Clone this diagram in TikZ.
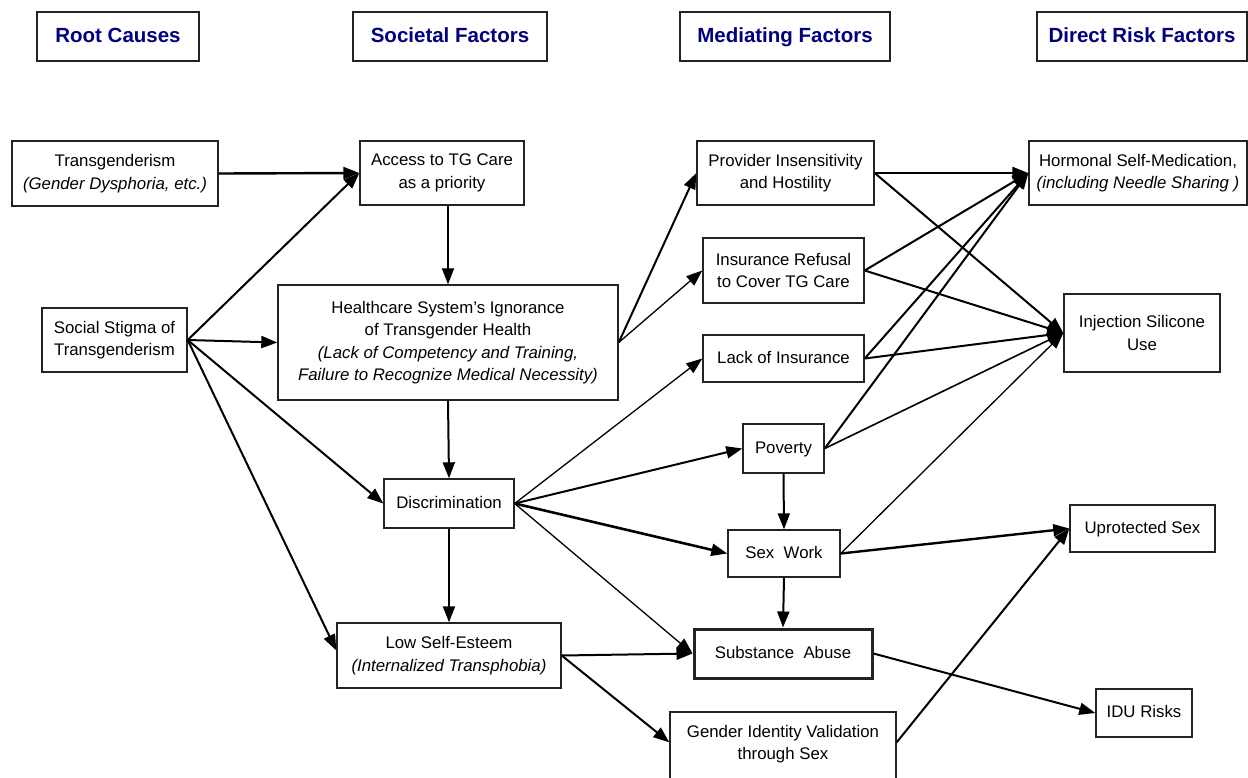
\documentclass[tikz,border=0pt]{standalone}
\usepackage{fontspec}
\setmainfont{Liberation Sans}
\usetikzlibrary{arrows.meta}
\definecolor{hdr}{RGB}{0,0,128}
\definecolor{bord}{RGB}{35,35,35}
\begin{document}
\begin{tikzpicture}[x=1pt,y=-1pt,
  box/.style={draw=bord, fill=white, line width=1.4pt, inner sep=0pt, align=center, font=\fontsize{16.8}{22.5}\selectfont, text=black},
  one/.style={text height=12.5pt, text depth=3.5pt},
  txt/.style={inner sep=0pt, align=center, font=\fontsize{16.8}{22.5}\selectfont, text=black},
  hbox/.style={draw=bord, fill=white, line width=1.4pt, inner sep=0pt, align=center, font=\fontsize{20.5}{24}\selectfont\bfseries, text=hdr, text height=15pt, text depth=3.5pt},
  arr/.style={-{Triangle[length=16pt,width=12pt]}, line width=2pt},
  thinline/.style={line width=1.3pt},
  heavyline/.style={line width=2.6pt},
  midline/.style={line width=2.4pt},
]
\useasboundingbox (0,0) rectangle (1248,777);
\fill[white] (0,0) rectangle (1248,777);

% headers
\node[hbox, minimum width=162pt, minimum height=49pt] (rc) at (118,36.5) {Root Causes};
\node[hbox, minimum width=194pt, minimum height=49pt] (sf) at (450,36.5) {Societal Factors};
\node[hbox, minimum width=210pt, minimum height=49pt] (mf) at (785,36.5) {Mediating Factors};
\node[hbox, minimum width=210pt, minimum height=49pt] (dr) at (1142,36.5) {Direct Risk Factors};

% left columns
\node[box, minimum width=206pt, minimum height=65pt] (tg) at (115,173.5) {Transgenderism\\\textit{(Gender Dysphoria, etc.)}};
\node[box, minimum width=145pt, minimum height=64pt] (ss) at (114.5,340) {Social Stigma of\\Transgenderism};
\node[box, minimum width=164pt, minimum height=64pt] (acc) at (442,173) {Access to TG Care\\as a priority};
\node[box, minimum width=340pt, minimum height=115pt] (hc) at (448,342.5) {Healthcare System's Ignorance\\of Transgender Health\\\textit{(Lack of Competency and Training,}\\\textit{Failure to Recognize Medical Necessity)}};
\node[box, one, minimum width=130pt, minimum height=49pt] (disc) at (449,503.5) {Discrimination};
\node[box, minimum width=224pt, minimum height=65pt] (lse) at (449,655.5) {Low Self-Esteem\\\textit{(Internalized Transphobia)}};

% mediating
\node[box, minimum width=177pt, minimum height=64pt] (prov) at (785.5,173) {Provider Insensitivity\\and Hostility};
\node[box, minimum width=161pt, minimum height=65pt] (ir) at (783.5,270.5) {Insurance Refusal\\to Cover TG Care};
\node[box, one, minimum width=161pt, minimum height=47pt] (li) at (783.5,358.5) {Lack of Insurance};
\node[box, one, minimum width=81pt, minimum height=49pt] (pov) at (783.5,448.5) {Poverty};
\node[box, one, minimum width=112pt, minimum height=47pt] (sw) at (784,553.5) {Sex\ \ Work};
\node[box, one, line width=3pt, minimum width=178pt, minimum height=49pt] (sa) at (783,653.5) {Substance\ \ Abuse};
\node[box, minimum width=226pt, minimum height=78pt] (gi) at (783,751) {};
\node[txt] (gitext) at (783,744) {Gender Identity Validation\\through Sex};
\coordinate (gil) at ([yshift=-31pt]gi.north west);
\coordinate (gir) at ([yshift=-31pt]gi.north east);

% direct risk
\node[box, minimum width=218pt, minimum height=64pt] (hsm) at (1138,173) {Hormonal Self-Medication,\\\textit{(including Needle Sharing )}};
\node[box, minimum width=156pt, minimum height=78pt] (isu) at (1142,333) {Injection Silicone\\Use};
\node[box, one, minimum width=145pt, minimum height=47pt] (ups) at (1142.5,528.5) {Uprotected Sex};
\node[box, one, minimum width=96pt, minimum height=48pt] (idu) at (1144,713) {IDU Risks};

% connectors
\draw[arr, midline] (tg.east) -- (acc.west);
\draw[arr] (ss.east) -- (acc.west);
\draw[arr] (ss.east) -- (hc.west);
\draw[arr] (ss.east) -- (disc.west);
\draw[arr] (ss.east) -- ([yshift=5pt]lse.west);
\draw[arr] (hc.north |- acc.south) -- (hc.north);
\draw[arr] (hc.south) -- (disc.north);
\draw[arr] (disc.south) -- (lse.north);
\draw[arr] (hc.east) -- (prov.west);
\draw[arr, thinline] (hc.east) -- (ir.west);
\draw[arr, thinline] (disc.east) -- (li.west);
\draw[arr] (disc.east) -- (pov.west);
\draw[arr, heavyline] (disc.east) -- (sw.west);
\draw[arr, thinline] (disc.east) -- (sa.west);
\draw[arr] (lse.east) -- (sa.west);
\draw[arr] (lse.east) -- (gil);
\draw[arr] (pov.south) -- (sw.north);
\draw[arr] (sw.south) -- (sa.north);
\draw[arr] (sa.east) -- (idu.west);
\draw[arr] (gir) -- (ups.west);
\draw[arr, midline] (sw.east) -- (ups.west);
\draw[arr, thinline] (sw.east) -- (isu.west);
\draw[arr] (pov.east) -- (hsm.west);
\draw[arr, line width=1.6pt] (pov.east) -- (isu.west);
\draw[arr] (li.east) -- (hsm.west);
\draw[arr] (li.east) -- (isu.west);
\draw[arr] (ir.east) -- (hsm.west);
\draw[arr] (ir.east) -- (isu.west);
\draw[arr, midline] (prov.east) -- (hsm.west);
\draw[arr] (prov.east) -- (isu.west);
\end{tikzpicture}
\end{document}
